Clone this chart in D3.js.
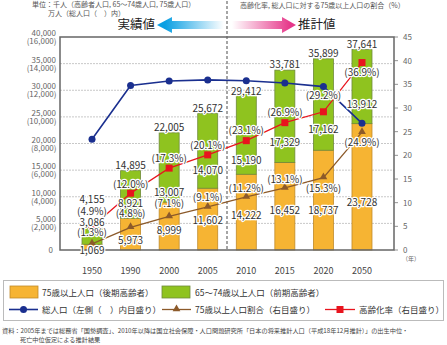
<!DOCTYPE html>
<html>
<head>
<meta charset="utf-8">
<script src="https://cdn.jsdelivr.net/npm/d3@7"></script>
<style>
  body { margin: 0; background: #fff; }
  svg { font-family: "Noto Sans CJK JP", "Noto Sans", sans-serif; }
  .lbl { font-size: 10px; fill: #333; paint-order: stroke; stroke: #fff; stroke-width: 2.5px; stroke-linejoin: round; }
</style>
</head>
<body>
<svg id="chart" width="447" height="345"></svg>
<script>
// data
var years = ['1950', '1990', '2000', '2005', '2010', '2015', '2020', '2050'];
var total65 = [4155, 14895, 22005, 25672, 29412, 33781, 35899, 37641];   // 千人
var old75 = [1069, 5973, 8999, 11602, 14222, 16452, 18737, 23728];       // 千人
var young6574 = [3086, 8921, 13007, 14070, 15190, 17329, 17162, 13912];  // 千人
var totalPop = [8320, 12361, 12693, 12777, 12718, 12543, 12273, 9515];   // 万人
var agingRate = [4.9, 12.0, 17.3, 20.1, 23.1, 26.9, 29.2, 39.6];         // %
var agingRateText = ['4.9', '12.0', '17.3', '20.1', '23.1', '26.9', '29.2', '36.9'];
var ratio75 = [1.3, 4.8, 7.1, 9.1, 11.2, 13.1, 15.3, 24.9];              // %
var leftTicks = [0, 5000, 10000, 15000, 20000, 25000, 30000, 35000, 40000];
var rightTicks = [0, 5, 10, 15, 20, 25, 30, 35, 40, 45];

// label nudges (px)
var totalDy = [-28, -5.5, -5.5, -5, -1.5, -6, -5.5, -5.5];
var agingDy = [-15.5, -9, -9.5, -9.5, -10, -10.5, -16, 10];
var ratioDy = [-11, -14, -13, -9.5, -8.5, -8.5, 11, 10];
var youngDy = [-22, -15, -10, -18, -14, -20, -20.5, -19];
var oldDy = [3, 6, 4.5, 1, 3, 4.5, 10.5, 16];

var svg = d3.select('#chart');
var mLeft = 60, mRight = 394, mTop = 37, mBottom = 250;

var x = d3.scalePoint().domain(years).range([mLeft, mRight]).padding(0.83);
var yL = d3.scaleLinear().domain([0, 40000]).range([mBottom, mTop]);
var yP = d3.scaleLinear().domain([0, 16000]).range([mBottom, mTop]);
var yR = d3.scaleLinear().domain([0, 45]).range([mBottom, mTop]);

var defs = svg.append('defs');
var gb = defs.append('linearGradient').attr('id', 'gBlue').attr('gradientUnits', 'userSpaceOnUse')
    .attr('x1', 165).attr('x2', 224).attr('y1', 0).attr('y2', 0);
gb.append('stop').attr('offset', 0).attr('stop-color', '#0a9fe3');
gb.append('stop').attr('offset', 1).attr('stop-color', '#0a9fe3').attr('stop-opacity', 0);
var gp = defs.append('linearGradient').attr('id', 'gPink').attr('gradientUnits', 'userSpaceOnUse')
    .attr('x1', 232).attr('x2', 290).attr('y1', 0).attr('y2', 0);
gp.append('stop').attr('offset', 0).attr('stop-color', '#e6388a').attr('stop-opacity', 0);
gp.append('stop').attr('offset', 1).attr('stop-color', '#e6388a');

// header
svg.append('text').attr('x', 32).attr('y', 7).style('font-size', '7px').attr('fill', '#555')
    .text('単位：千人（高齢者人口, 65～74歳人口, 75歳人口）');
svg.append('text').attr('x', 48).attr('y', 16).style('font-size', '7px').attr('fill', '#555')
    .text('万人（総人口（　）内）');
svg.append('text').attr('x', 240).attr('y', 8).style('font-size', '7px').attr('fill', '#555')
    .text('高齢化率, 総人口に対する75歳以上人口の割合（%）');

// arrows
svg.append('path').attr('fill', 'url(#gBlue)')
    .attr('d', 'M157,25 L172,17 L172,21 L224,21 L224,29 L172,29 L172,33 Z');
svg.append('path').attr('fill', 'url(#gPink)')
    .attr('d', 'M296,25 L282,17 L282,21 L232,21 L232,29 L282,29 L282,33 Z');
svg.append('text').attr('x', 155).attr('y', 28.5).attr('text-anchor', 'end')
    .style('font-size', '12.5px').attr('fill', '#222').text('実績値');
svg.append('text').attr('x', 298).attr('y', 28.5)
    .style('font-size', '12.5px').attr('fill', '#222').text('推計値');

// grid
svg.append('g').selectAll('line').data(leftTicks.slice(1, -1)).enter().append('line')
    .attr('x1', mLeft).attr('x2', mRight)
    .attr('y1', d => yL(d)).attr('y2', d => yL(d))
    .attr('stroke', '#c8c8c8').attr('stroke-width', 1).attr('stroke-dasharray', '2,1');

// separator
svg.append('line').attr('x1', 227).attr('x2', 227).attr('y1', 1).attr('y2', mBottom)
    .attr('stroke', '#888').attr('stroke-width', 1.5).attr('stroke-dasharray', '3,2');

// bars
var bw = 20;
var bars = svg.append('g');
bars.selectAll('.old').data(years).enter().append('rect')
    .attr('x', d => x(d) - bw / 2).attr('width', bw)
    .attr('y', (d, i) => yL(old75[i])).attr('height', (d, i) => yL(0) - yL(old75[i]))
    .attr('fill', '#f6b433').attr('stroke', '#c08a2a').attr('stroke-width', 0.8);
bars.selectAll('.young').data(years).enter().append('rect')
    .attr('x', d => x(d) - bw / 2).attr('width', bw)
    .attr('y', (d, i) => yL(old75[i] + young6574[i]))
    .attr('height', (d, i) => yL(old75[i]) - yL(old75[i] + young6574[i]))
    .attr('fill', '#8fc31f').attr('stroke', '#6e8a3a').attr('stroke-width', 0.8);

// frame
svg.append('rect').attr('x', mLeft).attr('y', mTop).attr('width', mRight - mLeft).attr('height', mBottom - mTop)
    .attr('fill', 'none').attr('stroke', '#666').attr('stroke-width', 1.5);

// left axis labels
var la = svg.append('g').style('font-size', '8px').attr('fill', '#666').attr('text-anchor', 'end');
leftTicks.forEach(function (t) {
    if (t === 0) {
        la.append('text').attr('x', 53).attr('y', yL(t) + 3).text('0');
        return;
    }
    la.append('text').attr('x', 56).attr('y', yL(t) - 1).text(d3.format(',')(t));
    la.append('text').attr('x', 56.5).attr('y', yL(t) + 7).text('(' + d3.format(',')(t * 0.4) + ')');
});

// right axis
var ra = svg.append('g');
ra.selectAll('line').data(rightTicks).enter().append('line')
    .attr('x1', mRight).attr('x2', mRight + 4)
    .attr('y1', d => yR(d)).attr('y2', d => yR(d))
    .attr('stroke', '#777').attr('stroke-width', 0.8);
ra.selectAll('text').data(rightTicks).enter().append('text')
    .attr('x', 403).attr('y', d => yR(d) + 3)
    .style('font-size', '8px').attr('fill', '#666').text(d => d);
svg.append('text').attr('x', 402).attr('y', 261).style('font-size', '6px').attr('fill', '#666').text('（年）');

// x labels
svg.append('g').selectAll('text').data(years).enter().append('text')
    .attr('x', d => x(d)).attr('y', 274).attr('text-anchor', 'middle')
    .style('font-size', '9px').attr('fill', '#444').text(d => d);

// lines
function drawLine(values, scale, color, width) {
    var line = d3.line().x((d, i) => x(years[i])).y(d => scale(d));
    svg.append('path').datum(values).attr('d', line)
        .attr('fill', 'none').attr('stroke', color).attr('stroke-width', width);
}
drawLine(ratio75, yR, '#8c5a2a', 1.3);
drawLine(agingRate, yR, '#e8141e', 1.3);
drawLine(totalPop, yP, '#1a2f8f', 1.6);

var tri = d3.symbol().type(d3.symbolTriangle).size(26);
svg.append('g').selectAll('path').data(ratio75).enter().append('path')
    .attr('d', tri).attr('transform', (d, i) => `translate(${x(years[i])},${yR(d) - 0.5})`)
    .attr('fill', '#8c5a2a');
svg.append('g').selectAll('rect').data(agingRate).enter().append('rect')
    .attr('x', (d, i) => x(years[i]) - 3.5).attr('y', d => yR(d) - 3.5)
    .attr('width', 7).attr('height', 7).attr('fill', '#e8141e');
svg.append('g').selectAll('circle').data(totalPop).enter().append('circle')
    .attr('cx', (d, i) => x(years[i])).attr('cy', d => yP(d)).attr('r', 3.5)
    .attr('fill', '#1a2f8f');

// value labels
var fmt = d3.format(',');
var lg = svg.append('g').attr('text-anchor', 'middle');
function addLabels(getY, getText) {
    years.forEach(function (yr, i) {
        lg.append('text').attr('class', 'lbl').attr('x', x(yr)).attr('y', getY(i) + 3.6).text(getText(i));
    });
}
addLabels(i => yL(old75[i] + young6574[i]) + totalDy[i], i => fmt(total65[i]));
addLabels(i => yL(old75[i]) + youngDy[i], i => fmt(young6574[i]));
addLabels(i => yL(old75[i] / 2) + oldDy[i], i => fmt(old75[i]));
addLabels(i => yR(agingRate[i]) + agingDy[i], i => '(' + agingRateText[i] + '%)');
addLabels(i => yR(ratio75[i]) + ratioDy[i], i => '(' + ratio75[i].toFixed(1) + '%)');

// legend
var leg = svg.append('g').style('font-size', '8.5px').attr('fill', '#333');
leg.append('rect').attr('x', 3.5).attr('y', 280.5).attr('width', 440).attr('height', 40)
    .attr('fill', 'none').attr('stroke', '#bbb').attr('stroke-width', 1);
leg.append('rect').attr('x', 10).attr('y', 286).attr('width', 28).attr('height', 12)
    .attr('fill', '#f6b433').attr('stroke', '#c08a2a').attr('stroke-width', 0.8);
leg.append('text').attr('x', 42).attr('y', 295.5).text('75歳以上人口（後期高齢者）');
leg.append('rect').attr('x', 162).attr('y', 286).attr('width', 28).attr('height', 12)
    .attr('fill', '#8fc31f').attr('stroke', '#6e8a3a').attr('stroke-width', 0.8);
leg.append('text').attr('x', 195).attr('y', 295.5).text('65～74歳以上人口（前期高齢者）');

leg.append('line').attr('x1', 9).attr('x2', 38).attr('y1', 309.5).attr('y2', 309.5)
    .attr('stroke', '#1a2f8f').attr('stroke-width', 1.6);
leg.append('circle').attr('cx', 23.5).attr('cy', 309.5).attr('r', 3.5).attr('fill', '#1a2f8f');
leg.append('text').attr('x', 42).attr('y', 312.5).text('総人口（左側（　）内目盛り）');

leg.append('line').attr('x1', 162).attr('x2', 191).attr('y1', 309.5).attr('y2', 309.5)
    .attr('stroke', '#8c5a2a').attr('stroke-width', 1.3);
leg.append('path').attr('d', tri).attr('transform', 'translate(176.5,309)').attr('fill', '#8c5a2a');
leg.append('text').attr('x', 195).attr('y', 312.5).text('75歳以上人口割合（右目盛り）');

leg.append('line').attr('x1', 325).attr('x2', 355).attr('y1', 309.5).attr('y2', 309.5)
    .attr('stroke', '#e8141e').attr('stroke-width', 1.3);
leg.append('rect').attr('x', 336.5).attr('y', 306).attr('width', 7).attr('height', 7).attr('fill', '#e8141e');
leg.append('text').attr('x', 359).attr('y', 312.5).text('高齢化率（右目盛り）');

// source
svg.append('text').attr('x', 2).attr('y', 333).style('font-size', '6.2px').attr('fill', '#444')
    .text('資料：2005年までは総務省「国勢調査」、2010年以降は国立社会保障・人口問題研究所「日本の将来推計人口（平成18年12月推計）」の出生中位・');
svg.append('text').attr('x', 20).attr('y', 342).style('font-size', '6.2px').attr('fill', '#444')
    .text('死亡中位仮定による推計結果');
</script>
</body>
</html>
